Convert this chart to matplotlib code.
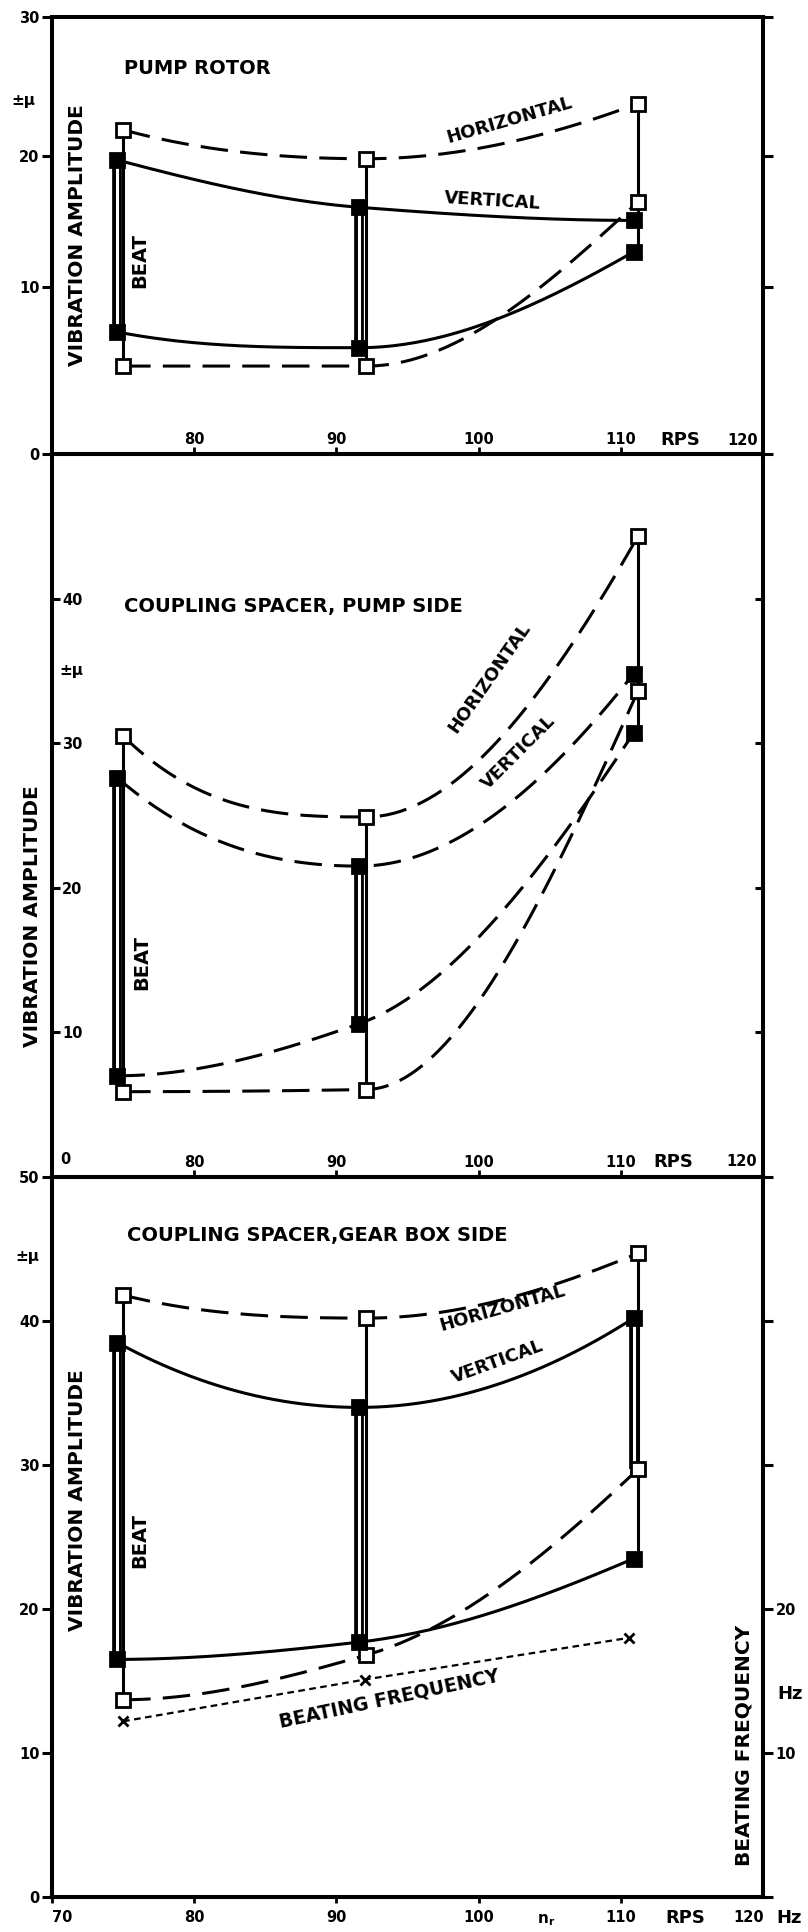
import numpy as np
import matplotlib.pyplot as plt

plt.rcParams['font.family'] = ['DejaVu Sans']
plt.rcParams['font.weight'] = 'bold'

W, H = 808, 1932

# test speeds in RPS (filled squares sit a bit left of the open ones)
rps_filled = [74.6, 91.6, 110.9]
rps_open = [75.0, 92.1, 111.2]
rps_beat = [75.0, 92.0, 110.6]

# pump rotor, +-micron
p1_h_top = [22.0, 19.8, 24.0]
p1_h_bot = [4.0, 4.0, 16.5]
p1_v_top = [19.7, 16.1, 15.1]
p1_v_bot = [6.6, 5.4, 12.7]

# coupling spacer, pump side
p2_h_top = [30.5, 24.9, 44.3]
p2_h_bot = [5.9, 6.05, 33.6]
p2_v_top = [27.6, 21.5, 34.8]
p2_v_bot = [7.0, 10.6, 30.7]

# coupling spacer, gear box side
p3_h_top = [41.8, 40.2, 44.7]
p3_h_bot = [13.7, 16.8, 29.7]
p3_v_top = [38.5, 34.0, 40.2]
p3_v_bot = [16.5, 17.7, 23.5]
beat_freq = [12.2, 15.1, 18.0]  # Hz

DASH = (0, (9, 4))
LW = 2.2

fig = plt.figure(figsize=(W / 100, H / 100), dpi=100)


def box(top, bottom):
    return [52 / W, 1 - bottom / H, (763 - 52) / W, (bottom - top) / H]


def ftext(x, y, s, size=12, rot=0, ha='center', va='center'):
    fig.text(x / W, 1 - y / H, s, fontsize=size, rotation=rot, ha=ha, va=va,
             fontweight='bold', rotation_mode='anchor')


def smooth(xs, ys, n=80):
    # monotone cubic (pchip-like) through the 3 readings, just for drawing
    x = np.asarray(xs, float)
    y = np.asarray(ys, float)
    h = np.diff(x)
    d = np.diff(y) / h
    m = np.zeros(3)
    if d[0] * d[1] > 0:
        w1, w2 = 2 * h[1] + h[0], h[1] + 2 * h[0]
        m[1] = (w1 + w2) / (w1 / d[0] + w2 / d[1])
    for k, (a, b, ha, hb) in enumerate([(d[0], d[1], h[0], h[1]), (d[1], d[0], h[1], h[0])]):
        e = ((2 * ha + hb) * a - ha * b) / (ha + hb)
        if np.sign(e) != np.sign(a):
            e = 0.0
        elif np.sign(a) != np.sign(b) and abs(e) > abs(3 * a):
            e = 3 * a
        m[0 if k == 0 else 2] = e
    xx, yy = [], []
    for i in range(2):
        t = np.linspace(0, 1, n)
        h00 = 2 * t**3 - 3 * t**2 + 1
        h10 = t**3 - 2 * t**2 + t
        h01 = -2 * t**3 + 3 * t**2
        h11 = t**3 - t**2
        xx.append(x[i] + t * h[i])
        yy.append(h00 * y[i] + h10 * h[i] * m[i] + h01 * y[i + 1] + h11 * h[i] * m[i + 1])
    return np.concatenate(xx), np.concatenate(yy)


def curve(ax, xs, ys, ls):
    xx, yy = smooth(xs, ys)
    ax.plot(xx, yy, color='k', lw=LW, ls=ls, zorder=3)


def panel(ax, h_top, h_bot, v_top, v_bot, v_ls, doubles):
    for i in range(3):
        lo = min(h_bot[i], v_bot[i])
        hi = max(h_top[i], v_top[i])
        ax.plot([rps_open[i]] * 2, [lo, hi], color='k', lw=LW, zorder=2)
    for i, lo, hi in doubles:
        ax.plot([rps_filled[i]] * 2, [lo, hi], color='k', lw=7,
                solid_capstyle='butt', zorder=2)
        ax.plot([rps_filled[i]] * 2, [lo, hi], color='white', lw=2.2,
                solid_capstyle='butt', zorder=2.1)
    curve(ax, rps_open, h_top, DASH)
    curve(ax, rps_open, h_bot, DASH)
    curve(ax, rps_filled, v_top, v_ls)
    curve(ax, rps_filled, v_bot, v_ls)
    for ys in (h_top, h_bot):
        ax.plot(rps_open, ys, 's', ms=9.5, mfc='white', mec='k', mew=2, zorder=5)
    for ys in (v_top, v_bot):
        ax.plot(rps_filled, ys, 's', ms=9.5, mfc='k', mec='k', mew=2, zorder=5)


def frame(ax):
    ax.set_xlim(70, 120)
    ax.patch.set_alpha(0)
    for sp in ax.spines.values():
        sp.set_linewidth(2.9)


ax1 = fig.add_axes(box(17, 454))
ax2 = fig.add_axes(box(454, 1177))
ax3 = fig.add_axes(box(1177, 1897))
for ax in (ax1, ax2, ax3):
    frame(ax)

# ---- pump rotor
panel(ax1, p1_h_top, p1_h_bot, p1_v_top, p1_v_bot, '-',
      [(0, p1_v_bot[0], p1_v_top[0]), (1, p1_v_bot[1], p1_v_top[1])])
ax1.set_ylim(-2.7, 30.6)
ax1.set_yticks([-2.7, 10, 20, 30.6], ['0', '10', '20', '30'])
ax1.tick_params(axis='y', left=True, right=True, direction='out', length=7,
                width=2.2, labelsize=10.5, pad=2)
ax1.set_xticks([80, 90, 100, 110], ['80', '90', '100', '110'])
ax1.tick_params(axis='x', direction='in', length=5, width=2, pad=-16,
                labelsize=10.5)

# ---- coupling spacer, pump side
panel(ax2, p2_h_top, p2_h_bot, p2_v_top, p2_v_bot, DASH,
      [(0, p2_v_bot[0], p2_v_top[0]), (1, p2_v_bot[1], p2_v_top[1])])
ax2.set_ylim(0, 50)
ax2.set_yticks([10, 20, 30, 40], ['10', '20', '30', '40'])
ax2.tick_params(axis='y', left=True, right=True, direction='in', length=6,
                width=2.2, labelsize=10.5, pad=-22)
ax2.set_xticks([80, 90, 100, 110], ['80', '90', '100', '110'])
ax2.tick_params(axis='x', direction='in', length=5, width=2, pad=-16,
                labelsize=10.5)

# ---- coupling spacer, gear box side
panel(ax3, p3_h_top, p3_h_bot, p3_v_top, p3_v_bot, '-',
      [(0, p3_v_bot[0], p3_v_top[0]), (1, p3_v_bot[1], p3_v_top[1]),
       (2, p3_h_bot[2], p3_v_top[2])])
ax3.plot(rps_beat, beat_freq, color='k', lw=1.6, ls=(0, (3, 2)), zorder=3)
ax3.plot(rps_beat, beat_freq, 'x', ms=7, mew=2, color='k', zorder=5)
ax3.set_ylim(0, 50)
ax3.set_yticks(range(0, 51, 10))
ax3.tick_params(axis='y', direction='out', length=7, width=2.2,
                labelsize=10.5, pad=2)
ax3.set_xticks([70, 80, 90, 100, 110], ['70', '80', '90', '100', '110'])
ax3.tick_params(axis='x', direction='out', length=4, width=2, pad=5,
                labelsize=10.5)
ax3.get_xticklabels()[0].set_ha('left')
ax3r = ax3.twinx()
ax3r.set_ylim(0, 50)
ax3r.set_yticks(range(0, 51, 10), ['', '10', '20', '', '', ''])
ax3r.tick_params(axis='y', direction='out', length=7, width=2.2,
                 labelsize=10.5, pad=2)
for sp in ax3r.spines.values():
    sp.set_linewidth(2.9)

# ---- labels
ftext(124, 68, 'PUMP ROTOR', 14, ha='left')
ftext(23, 100, '±μ', 11)
ftext(78, 235, 'VIBRATION AMPLITUDE', 14.5, rot=90)
ftext(140, 260, 'BEAT', 14, rot=90)
ftext(509, 120, 'HORIZONTAL', 13, rot=16)
ftext(492, 201, 'VERTICAL', 13, rot=-3.5)
ftext(680, 440, 'RPS', 13)
ftext(743, 440, '120', 10.5)

ftext(124, 607, 'COUPLING SPACER, PUMP SIDE', 14, ha='left')
ftext(71, 671, '±μ', 11)
ftext(33, 916, 'VIBRATION AMPLITUDE', 14.5, rot=90)
ftext(142, 963, 'BEAT', 14, rot=90)
ftext(490, 678, 'HORIZONTAL', 13, rot=55)
ftext(519, 752, 'VERTICAL', 13, rot=45)
ftext(65, 1160, '0', 10.5)
ftext(673, 1162, 'RPS', 13)
ftext(742, 1162, '120', 10.5)

ftext(127, 1236, 'COUPLING SPACER,GEAR BOX SIDE', 14, ha='left')
ftext(27, 1256, '±μ', 11)
ftext(78, 1500, 'VIBRATION AMPLITUDE', 14.5, rot=90)
ftext(140, 1540, 'BEAT', 14, rot=90)
ftext(502, 1308, 'HORIZONTAL', 13, rot=16)
ftext(498, 1362, 'VERTICAL', 13, rot=20)
ftext(389, 1699, 'BEATING FREQUENCY', 13.5, rot=12)
ftext(790, 1694, 'Hz', 13)
ftext(744, 1745, 'BEATING FREQUENCY', 14.5, rot=90)
ftext(546, 1920, r'n$_\mathbf{r}$', 11)
ftext(685, 1918, 'RPS', 13)
ftext(749, 1918, '120', 10.5)
ftext(789, 1918, 'Hz', 13)

fig.savefig('out.png', dpi=100)
